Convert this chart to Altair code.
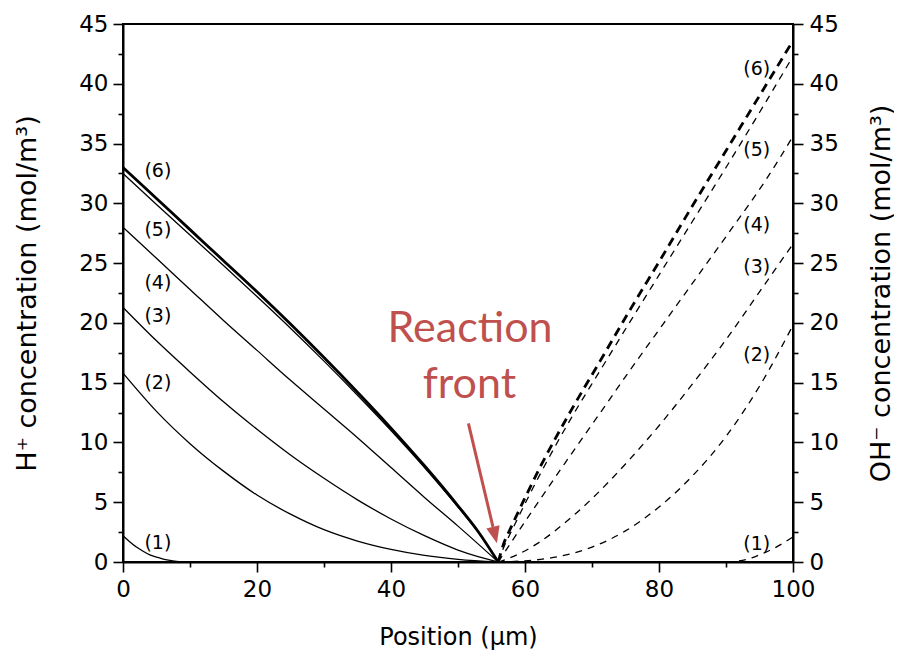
import altair as alt
import pandas as pd

# ---------------- data ----------------
# H+ concentration (solid lines), curves (1)..(6), all meeting the front at x = 56
s1_x = [0, 1, 2, 3, 4, 5, 6, 7, 8, 10]
s1_y = [2.2, 1.7, 1.25, 0.9, 0.6, 0.4, 0.25, 0.13, 0.06, 0]
s2_x = [0, 5, 10, 15, 20, 25, 30, 35, 40, 45, 50, 56]
s2_y = [15.8, 12.6, 9.9, 7.6, 5.6, 4.0, 2.7, 1.75, 1.05, 0.55, 0.22, 0]
s3_x = [0, 5, 10, 15, 20, 25, 30, 35, 40, 45, 50, 53, 56]
s3_y = [21.3, 18.5, 15.9, 13.4, 11.1, 8.95, 7.0, 5.2, 3.6, 2.2, 1.0, 0.45, 0]
s4_x = [0, 5, 10, 15, 20, 25, 30, 35, 40, 45, 50, 56]
s4_y = [28.0, 25.4, 22.8, 20.2, 17.7, 15.2, 12.8, 10.4, 7.9, 5.4, 3.0, 0]
s5_x = [0, 5, 10, 15, 20, 25, 30, 35, 40, 45, 50, 53, 56]
s5_y = [32.5, 29.9, 27.35, 24.8, 22.2, 19.55, 16.8, 13.95, 11.0, 7.9, 4.6, 2.5, 0]
s6_x = [0, 5, 10, 15, 20, 25, 30, 35, 40, 45, 50, 53, 56]
s6_y = [33.0, 30.4, 27.8, 25.2, 22.6, 19.9, 17.1, 14.2, 11.2, 8.05, 4.7, 2.55, 0]
# H+ is zero beyond the front
s0_x = [10, 100]
s0_y = [0, 0]

# OH- concentration (dashed lines), curves (1)..(6), starting at the front
d1_x = [90, 93, 95, 97, 100]
d1_y = [0, 0.2, 0.6, 1.1, 2.1]
d2_x = [56, 60, 65, 70, 75, 80, 85, 90, 95, 100]
d2_y = [0, 0.1, 0.45, 1.25, 2.6, 4.6, 7.2, 10.5, 14.7, 19.8]
d3_x = [56, 58, 62, 66, 70, 75, 80, 85, 90, 95, 100]
d3_y = [0, 0.4, 1.6, 3.3, 5.3, 8.2, 11.4, 14.9, 18.6, 22.6, 26.6]
d4_x = [56, 58, 61, 66, 71, 76, 81, 86, 91, 96, 100]
d4_y = [0, 1.7, 4.2, 8.3, 12.3, 16.3, 20.2, 24.1, 28.0, 32.0, 35.6]
d5_x = [56, 56.8, 58, 60.2, 62.5, 66.7, 71.2, 75.9, 80, 85, 90, 95, 100]
d5_y = [0, 1.2, 2.6, 5.1, 7.6, 11.85, 16.0, 20.3, 24.0, 28.5, 33.0, 37.6, 42.3]
d6_x = [56, 56.8, 58, 60.2, 62.5, 66.7, 71.2, 75.9, 80, 85, 90, 95, 100]
d6_y = [0, 1.5, 3.0, 5.6, 8.2, 12.5, 16.8, 21.3, 25.1, 29.8, 34.4, 39.0, 43.6]
# OH- is zero ahead of the front
d0_x = [0, 90]
d0_y = [0, 0]

# curve labels
label_text = ["(1)", "(2)", "(3)", "(4)", "(5)", "(6)"]
left_label_x = [5.2, 5.2, 5.2, 5.2, 5.2, 5.2]
left_label_y = [1.6, 15.0, 20.6, 23.3, 27.8, 32.7]
right_label_x = [94.6, 94.6, 94.6, 94.6, 94.6, 94.6]
right_label_y = [1.5, 17.3, 24.7, 28.2, 34.5, 41.2]

# annotation
note_lines = ["Reaction", "front"]
note_x = [51.8, 51.7]
note_y = [18.4, 13.7]
arrow_start = [51.55, 11.6]
arrow_base = [55.22, 2.94]
arrow_head = [55.51, 2.25]

x_ticks = list(range(0, 101, 10))
y_ticks = [i * 2.5 for i in range(19)]

FONT = "DejaVu Sans"
RED = "#C0504D"


def long(curves):
    rows = []
    for name, xs, ys in curves:
        for a, b in zip(xs, ys):
            rows.append({"curve": name, "x": a, "y": b})
    return pd.DataFrame(rows)


solid_thin = long([("0", s0_x, s0_y), ("1", s1_x, s1_y), ("2", s2_x, s2_y),
                   ("3", s3_x, s3_y), ("4", s4_x, s4_y), ("5", s5_x, s5_y)])
solid_thick = long([("6", s6_x, s6_y)])
dash_thin = long([("0", d0_x, d0_y), ("1", d1_x, d1_y), ("2", d2_x, d2_y),
                  ("3", d3_x, d3_y), ("4", d4_x, d4_y), ("5", d5_x, d5_y)])
dash_thick = long([("6", d6_x, d6_y)])

labels_df = pd.DataFrame({
    "t": label_text + label_text,
    "x": left_label_x + right_label_x,
    "y": left_label_y + right_label_y,
})
note_df = pd.DataFrame({"t": note_lines, "x": note_x, "y": note_y})
arrow_df = pd.DataFrame({"x": [arrow_start[0]], "y": [arrow_start[1]],
                         "x2": [arrow_base[0]], "y2": [arrow_base[1]]})
head_df = pd.DataFrame({"x": [arrow_head[0]], "y": [arrow_head[1]]})

x_enc = alt.X(
    "x:Q",
    scale=alt.Scale(domain=[0, 100], nice=False, zero=False),
    axis=alt.Axis(
        values=x_ticks,
        labelExpr="datum.value % 20 === 0 ? datum.label : ''",
        tickSize={"condition": {"test": "datum.value % 20 === 0", "value": 10}, "value": 5},
        labelFlush=False,
        labelPadding=6,
        title="Position (μm)",
        titleFontSize=24,
        titleY=82,
        titleBaseline="alphabetic",
        grid=False,
    ),
)

y_left = alt.Y(
    "y:Q",
    scale=alt.Scale(domain=[0, 45], nice=False),
    axis=alt.Axis(
        orient="left",
        values=y_ticks,
        labelExpr="datum.value % 5 === 0 ? datum.label : ''",
        tickSize={"condition": {"test": "datum.value % 5 === 0", "value": 10}, "value": 5},
        labelFlush=False,
        labelPadding=5,
        title="H⁺ concentration (mol/m³)",
        titleFontSize=27,
        titleAngle=270,
        titleX=-96,
        titleY=269,
        titleAlign="center",
        titleBaseline="middle",
        grid=False,
    ),
)

y_right = alt.Y(
    "y:Q",
    scale=alt.Scale(domain=[0, 45], nice=False),
    axis=alt.Axis(
        orient="right",
        values=y_ticks,
        labelExpr="datum.value % 5 === 0 ? datum.label : ''",
        tickSize={"condition": {"test": "datum.value % 5 === 0", "value": 10}, "value": 5},
        labelFlush=False,
        labelPadding=6,
        title="OH⁻ concentration (mol/m³)",
        titleFontSize=27,
        titleAngle=270,
        titleX=88,
        titleY=269,
        titleAlign="center",
        titleBaseline="middle",
        grid=False,
    ),
)

thin_solid = alt.Chart(solid_thin).mark_line(
    color="black", strokeWidth=1.3, interpolate="monotone"
).encode(x=x_enc, y=y_left, detail="curve:N")
thick_solid = alt.Chart(solid_thick).mark_line(
    color="black", strokeWidth=2.8, interpolate="monotone"
).encode(x=x_enc, y=y_left, detail="curve:N")

curve_labels = alt.Chart(labels_df).mark_text(
    font=FONT, fontSize=19, color="black", align="center", baseline="middle"
).encode(x=x_enc, y=y_left, text="t:N")

note = alt.Chart(note_df).mark_text(
    font="Lato", fontSize=43, color=RED, align="center", baseline="alphabetic"
).encode(x=x_enc, y=y_left, text="t:N")

arrow = alt.Chart(arrow_df).mark_rule(color=RED, strokeWidth=3).encode(
    x=x_enc, y=y_left, x2="x2:Q", y2="y2:Q"
)
head = alt.Chart(head_df).mark_point(
    shape="M-0.8,-1L0.8,-1L0,1Z", filled=True, size=289, angle=346.7,
    color=RED, opacity=1, strokeWidth=0
).encode(x=x_enc, y=y_left)

left = alt.layer(thin_solid, thick_solid, curve_labels, note, arrow, head)

thin_dash = alt.Chart(dash_thin).mark_line(
    color="black", strokeWidth=1.3, strokeDash=[7, 6], interpolate="monotone"
).encode(x=x_enc, y=y_right, detail="curve:N")
thick_dash = alt.Chart(dash_thick).mark_line(
    color="black", strokeWidth=2.8, strokeDash=[9, 6], interpolate="monotone"
).encode(x=x_enc, y=y_right, detail="curve:N")

right = alt.layer(thin_dash, thick_dash)

chart = alt.layer(left, right).resolve_scale(y="independent").properties(
    width=670,
    height=538,
    autosize=alt.AutoSizeParams(type="none"),
    padding={"left": 115, "top": 16, "right": 101, "bottom": 88},
    background="white",
).configure_view(
    stroke="black", strokeWidth=2
).configure_axis(
    domainColor="black", domainWidth=2, tickColor="black", tickWidth=1.6,
    labelFont=FONT, labelFontSize=23, labelColor="black",
    titleFont=FONT, titleFontWeight="normal", titleColor="black",
)

chart.save("out.html", embed_options={"renderer": "svg", "actions": False})
